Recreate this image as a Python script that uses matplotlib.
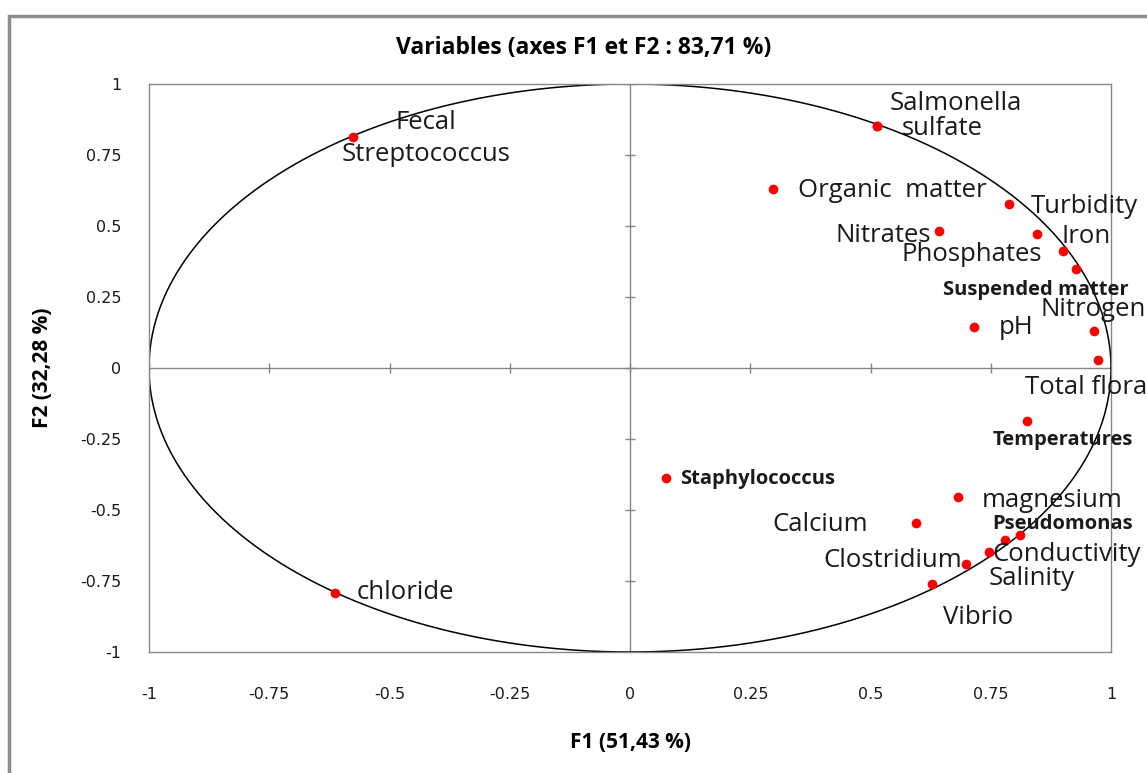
import numpy as np
import matplotlib.pyplot as plt
from matplotlib.patches import Rectangle

# ============================================
# Correlation circle data (F1 / F2 coordinates)
# ============================================
variables = ['Fecal\nStreptococcus', 'Salmonella', 'sulfate', 'Organic  matter', 'Turbidity',
             'Nitrates', 'Iron', 'Phosphates', 'Suspended matter', 'pH', 'Nitrogen',
             'Total flora', 'Temperatures', 'Staphylococcus', 'magnesium', 'Calcium',
             'Pseudomonas', 'Salinity', 'Conductivity', 'Clostridium', 'Vibrio', 'chloride']
f1 = [-0.576, 0.514, 0.514, 0.298, 0.787, 0.643, 0.847, 0.900, 0.928, 0.716, 0.964,
      0.973, 0.826, 0.075, 0.681, 0.594, 0.810, 0.780, 0.746, 0.699, 0.628, -0.614]
f2 = [0.812, 0.853, 0.853, 0.630, 0.576, 0.483, 0.471, 0.412, 0.348, 0.143, 0.130,
      0.028, -0.187, -0.388, -0.455, -0.545, -0.588, -0.606, -0.647, -0.691, -0.761, -0.791]

ticks = [-1, -0.75, -0.5, -0.25, 0, 0.25, 0.5, 0.75, 1]
tick_labels = ['-1', '-0.75', '-0.5', '-0.25', '0', '0.25', '0.5', '0.75', '1']

title = 'Variables (axes F1 et F2 : 83,71 %)'
xlabel = 'F1 (51,43 %)'
ylabel = 'F2 (32,28 %)'

# label placement: offset from the point in pixels (x right, y down), alignment, bold
lab_dx = [73, 12, 25, 25, 22, -8, 24, -21, -133, 24, -53, -73, -35, 14, 24, -48, -27, -17, 4, -4, 11, 22]
lab_dy = [1, -22, 3, 1, 2, 5, 2, 4, 21, 0, -22, 27, 19, 1, 3, 2, -11, 38, 3, -4, 33, 0]
lab_ha = ['center', 'left', 'left', 'left', 'left', 'right', 'left', 'right', 'left', 'left', 'left',
          'left', 'left', 'left', 'left', 'right', 'left', 'left', 'left', 'right', 'left', 'left']
lab_bold = ['Suspended matter', 'Temperatures', 'Staphylococcus', 'Pseudomonas']

gray = '#868686'
plt.rcParams['font.family'] = ['Open Sans', 'DejaVu Sans']

fig = plt.figure(figsize=(11.47, 7.73), dpi=100)
ax = fig.add_axes([149/1147, 1 - 652/773, (1111 - 149)/1147, (652 - 84)/773])

# outer chart frame
fig.patches.append(Rectangle((9/1147, -0.1), 1.2, 1 - 16/773 + 0.1, transform=fig.transFigure,
                             fill=False, edgecolor='#8c8c8c', lw=2.5))

# circle of correlations
theta = np.linspace(0, 2*np.pi, 500)
ax.plot(np.cos(theta), np.sin(theta), color='black', lw=1.1, zorder=2)

# axes through the origin with cross ticks
ax.axhline(0, color=gray, lw=1, zorder=1)
ax.axvline(0, color=gray, lw=1, zorder=1)
ax.plot(ticks, np.zeros(len(ticks)), ls='none', marker='|', ms=7, mew=1, color=gray, zorder=1)
ax.plot(np.zeros(len(ticks)), ticks, ls='none', marker='_', ms=7, mew=1, color=gray, zorder=1)

ax.plot(f1, f2, ls='none', marker='o', ms=7, color='#ff0000', mec='none', zorder=3)

for i, name in enumerate(variables):
    bold = name in lab_bold
    ax.annotate(name, (f1[i], f2[i]), xytext=(lab_dx[i]*0.72, -lab_dy[i]*0.72),
                textcoords='offset points', ha=lab_ha[i], va='center', multialignment='center',
                fontsize=14.5 if bold else 18.5, fontweight='bold' if bold else 'normal',
                color='#1a1a1a', linespacing=1.4, annotation_clip=False, zorder=4)

ax.set_xlim(-1, 1)
ax.set_ylim(-1, 1)
ax.set_xticks(ticks)
ax.set_xticklabels(tick_labels)
ax.set_yticks(ticks)
ax.set_yticklabels(tick_labels)
ax.tick_params(axis='x', length=0, pad=25, labelsize=11.5)
ax.tick_params(axis='y', length=0, pad=20, labelsize=11.5)
for lbl in ax.get_xticklabels() + ax.get_yticklabels():
    lbl.set_fontfamily('DejaVu Sans')
    lbl.set_color('#1a1a1a')
for s in ax.spines.values():
    s.set_color(gray)
    s.set_linewidth(1)

fig.text(584/1147, 1 - 48/773, title, ha='center', va='center', fontsize=16.5, fontweight='bold')
fig.text(630/1147, 1 - 742/773, xlabel, ha='center', va='center', fontsize=15, fontweight='bold')
fig.text(42/1147, 1 - 368/773, ylabel, ha='center', va='center', fontsize=15, fontweight='bold',
         rotation=90)

plt.savefig('out.png', dpi=100)
